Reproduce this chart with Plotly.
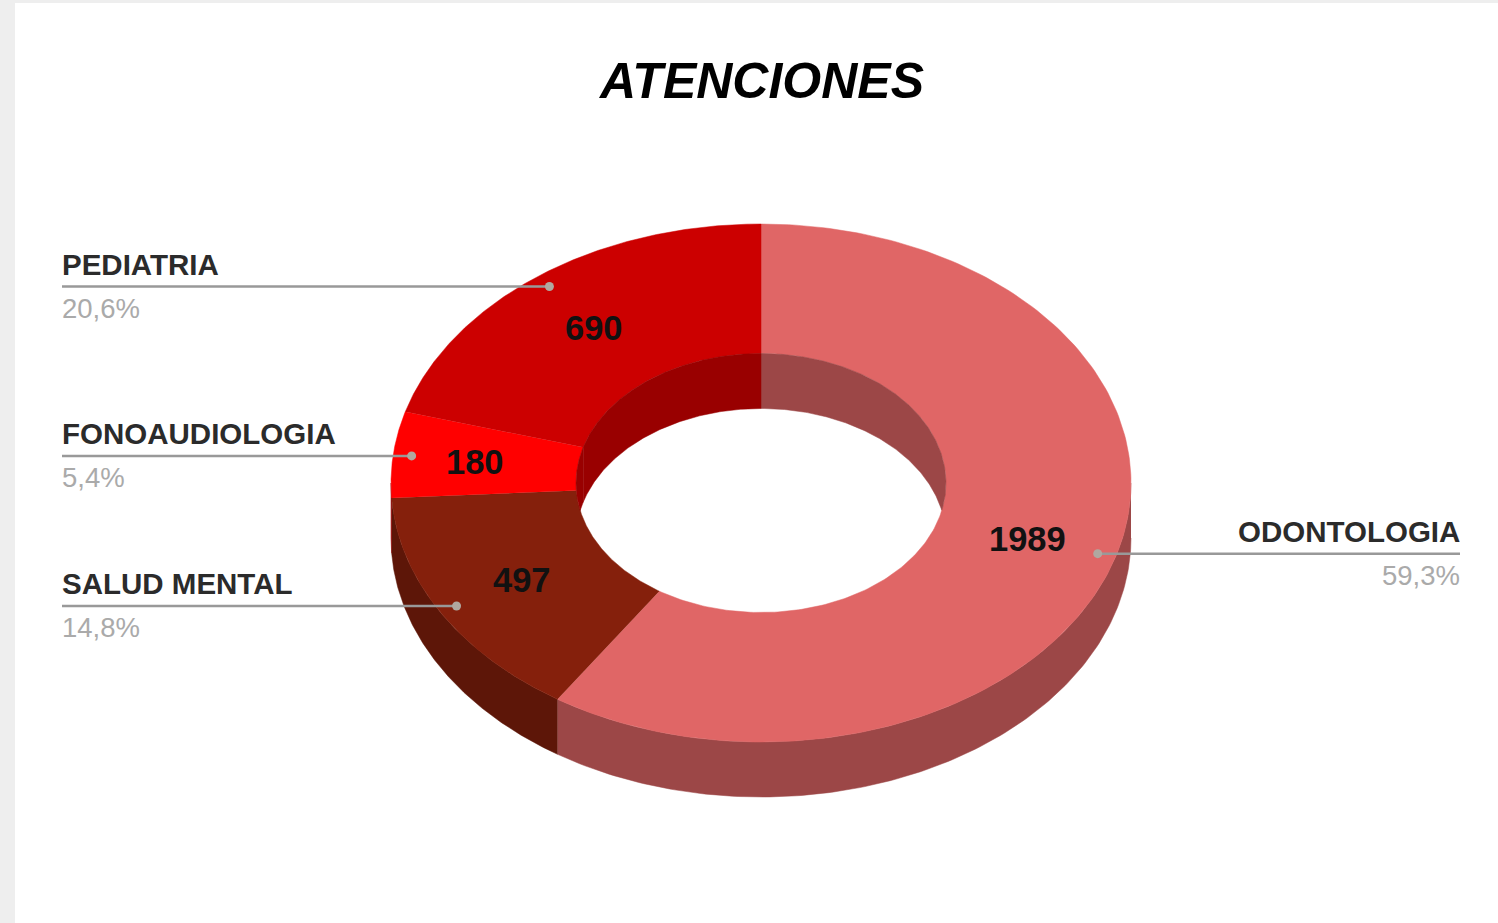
import numpy as np
import plotly.graph_objects as go

# Data
categories = ['ODONTOLOGIA', 'SALUD MENTAL', 'FONOAUDIOLOGIA', 'PEDIATRIA']
values = [1989, 497, 180, 690]
percent_labels = ['59,3%', '14,8%', '5,4%', '20,6%']

top_colors = ['#e06666', '#85200c', '#ff0000', '#cc0000']
wall_colors = ['#9c4747', '#5d1608', '#990000', '#990000']

# Ring geometry, in page pixels
CX, CY = 761, 483
RX, RY = 370, 259
HOLE_RX, HOLE_RY = 185, 129.5
DEPTH = 55
LEFT_EDGE, RIGHT_EDGE = 62, 1460
VALUE_NUDGE = [1, 1, -10, 0]


def ring_point(angle, rx, ry, dy=0):
    # angle runs clockwise from 12 o'clock
    return CX + rx * np.sin(angle), CY - ry * np.cos(angle) + dy


def add_poly(fig, x, y, color):
    fig.add_trace(go.Scatter(
        x=x, y=y, mode='lines', fill='toself', fillcolor=color,
        line=dict(color=color, width=0.5), hoverinfo='skip', showlegend=False,
    ))


fractions = np.array(values) / sum(values)
edges = np.concatenate([[0], np.cumsum(fractions)]) * 2 * np.pi

fig = go.Figure()

# Outer wall, front half only
for i, color in enumerate(wall_colors):
    a = max(edges[i], np.pi / 2)
    b = min(edges[i + 1], 3 * np.pi / 2)
    if b <= a:
        continue
    t = np.linspace(a, b, 150)
    x_up, y_up = ring_point(t, RX, RY)
    x_down, y_down = ring_point(t[::-1], RX, RY, DEPTH)
    add_poly(fig, np.concatenate([x_up, x_down]), np.concatenate([y_up, y_down]), color)

# Top face
for i, color in enumerate(top_colors):
    t = np.linspace(edges[i], edges[i + 1], 200)
    x_out, y_out = ring_point(t, RX, RY)
    x_in, y_in = ring_point(t[::-1], HOLE_RX, HOLE_RY)
    add_poly(fig, np.concatenate([x_out, x_in]), np.concatenate([y_out, y_in]), color)

# Wall seen through the hole: back half, cut off by the hole's front rim
for i, color in enumerate(wall_colors):
    ranges = [(edges[i], min(edges[i + 1], np.pi / 2)),
              (max(edges[i], 3 * np.pi / 2), edges[i + 1])]
    for a, b in ranges:
        if b <= a:
            continue
        t = np.linspace(a, b, 150)
        x_up, y_up = ring_point(t, HOLE_RX, HOLE_RY)
        y_rim = CY - HOLE_RY * np.cos(t)
        y_front = CY + HOLE_RY * np.cos(t)
        y_low = np.minimum(y_rim + DEPTH, y_front)
        add_poly(fig, np.concatenate([x_up, x_up[::-1]]), np.concatenate([y_up, y_low[::-1]]), color)

# Leader lines, labels and values
mid_angles = (edges[:-1] + edges[1:]) / 2
for name, val, pct, mid, nudge in zip(categories, values, percent_labels, mid_angles, VALUE_NUDGE):
    dot_x, dot_y = ring_point(mid, RX * 0.95, RY * 0.95)
    right = np.sin(mid) > 0
    edge = RIGHT_EDGE if right else LEFT_EDGE
    fig.add_trace(go.Scatter(
        x=[edge, dot_x], y=[dot_y, dot_y], mode='lines',
        line=dict(color='#999999', width=2.5), hoverinfo='skip', showlegend=False,
    ))
    fig.add_trace(go.Scatter(
        x=[dot_x], y=[dot_y], mode='markers',
        marker=dict(color='#b0a8a0', size=9), hoverinfo='skip', showlegend=False,
    ))
    anchor = 'right' if right else 'left'
    shift = 2 if right else -2
    fig.add_annotation(x=edge, y=dot_y - 22, text=name, showarrow=False, xanchor=anchor, yanchor='middle',
                       xshift=shift, font=dict(family='Liberation Sans', size=29.5, color='#2b2b2b', weight='bold'))
    fig.add_annotation(x=edge, y=dot_y + 22, text=pct, showarrow=False, xanchor=anchor, yanchor='middle',
                       xshift=shift, font=dict(family='Liberation Sans', size=27.5, color='#aaaaaa'))
    label_x, label_y = ring_point(mid, (RX + HOLE_RX) / 2, (RY + HOLE_RY) / 2)
    fig.add_annotation(x=label_x, y=label_y, text=str(val), showarrow=False, xshift=nudge,
                       font=dict(family='Liberation Sans', size=34.5, color='#111111', weight='bold'))

fig.update_layout(
    width=1498, height=923,
    margin=dict(l=0, r=0, t=0, b=0),
    paper_bgcolor='#eeeeee',
    plot_bgcolor='#eeeeee',
    title=dict(
        text='ATENCIONES', x=762 / 1498, xanchor='center', y=1 - 80 / 923, yanchor='middle',
        font=dict(family='Liberation Sans', size=50, color='#000000', weight='bold', style='italic'),
    ),
    xaxis=dict(range=[0, 1498], visible=False, fixedrange=True),
    yaxis=dict(range=[923, 0], visible=False, fixedrange=True),
    # White card over the grey page, which shows as a strip on the left and top
    shapes=[dict(type='rect', xref='x', yref='y', x0=15, x1=1498, y0=3, y1=923,
                 fillcolor='#ffffff', line_width=0, layer='below')],
)

# The page's default 8px body margin would push the whole chart off target
fig.write_html('out.html', config=dict(displayModeBar=False),
               post_script="document.body.style.margin='0';document.body.style.overflow='hidden';")
